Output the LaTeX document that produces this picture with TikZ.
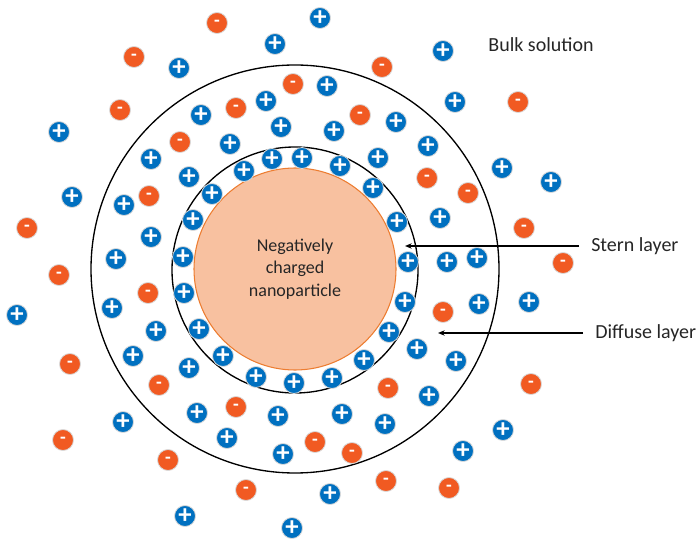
\documentclass[tikz,border=0pt]{standalone}
\usepackage{fontspec}
\setmainfont{Carlito}
\usepackage{xcolor}
\usetikzlibrary{arrows.meta}
\definecolor{ionblue}{HTML}{0070C0}
\definecolor{ionorange}{HTML}{F15A22}
\definecolor{corefill}{HTML}{F8C1A0}
\definecolor{coreline}{HTML}{ED7D31}
\definecolor{textgray}{HTML}{262626}

\begin{document}
\begin{tikzpicture}[
  x=0.75pt, y=-0.75pt,
  font=\fontsize{13.5}{16.8}\selectfont,
  line/.style={-{Stealth[length=5pt,width=4pt]}, line width=0.8pt, draw=black},
  layer/.style={draw=black, line width=1pt},
  core/.style={circle, fill=corefill, draw=coreline, line width=0.8pt, minimum size=151.5pt, inner sep=0pt, align=center, text=textgray},
  ion/.style={circle, draw=black!15, line width=0.6pt, minimum size=15.75pt, inner sep=0pt, text=white},
  cation/.style={ion, fill=ionblue, font=\fontsize{20}{20}\selectfont\bfseries},
  anion/.style={ion, fill=ionorange, font=\fontsize{14}{14}\selectfont\bfseries},
  lbl/.style={anchor=west, inner sep=0pt, inner xsep=9pt, text=textgray, font=\fontsize{15}{18}\selectfont}
]
\useasboundingbox (0,0) rectangle (699,541);

% Layers and particle
\draw[layer] (295,269) circle [radius=204];
\draw[layer] (295,270) circle [radius=123];
\node[core] (particle) at (295,269) {Negatively\\charged\\nanoparticle};

% Positive ions
\foreach \x/\y [count=\i] in {320/18,275/44,179/68,327/86,201/115,266/101,59/132,281/127,334/131,
  230/144,151/159,272/159,302/158,340/166,189/177,244/171,212/194,72/197,124/205,193/220,
  151/237,183/257,116/259,443/51,455/102,396/122,428/146,378/158,502/168,551/182,373/188,
  397/222,440/218,408/262,447/262,477/258,184/293,17/315,112/308,156/331,199/329,133/356,
  223/356,189/368,256/377,294/383,332/378,197/413,123/422,278/416,342/414,227/438,283/454,
  330/494,185/516,292/528,405/302,479/304,529/302,389/332,417/349,364/360,456/361,429/396,
  385/424,503/430,463/451}
  \node[cation] (cat\i) at (\x,\y) {+};

% Negative ions
\foreach \x/\y [count=\i] in {217/23,134/57,293/84,120/110,236/108,180/142,149/196,27/228,59/275,
  382/67,518/102,360/115,427/178,468/193,524/228,563/263,148/293,70/364,159/385,236/407,
  63/440,315/442,168/460,246/490,352/453,443/312,388/388,531/384,386/481,449/488}
  \node[anion] (an\i) at (\x,\y) {-};

% Labels
\node[text=textgray] (bulk) at (541,45) {\fontsize{15}{18}\selectfont Bulk solution};
\node[lbl] (stern) at (579,246) {Stern layer};
\node[lbl] (diffuse) at (583,333) {Diffuse layer};
\coordinate (sternpt) at (405,246);
\coordinate (diffusept) at (438,333);
\draw[line] (stern.west) -- (sternpt);
\draw[line] (diffuse.west) -- (diffusept);
\end{tikzpicture}
\end{document}
